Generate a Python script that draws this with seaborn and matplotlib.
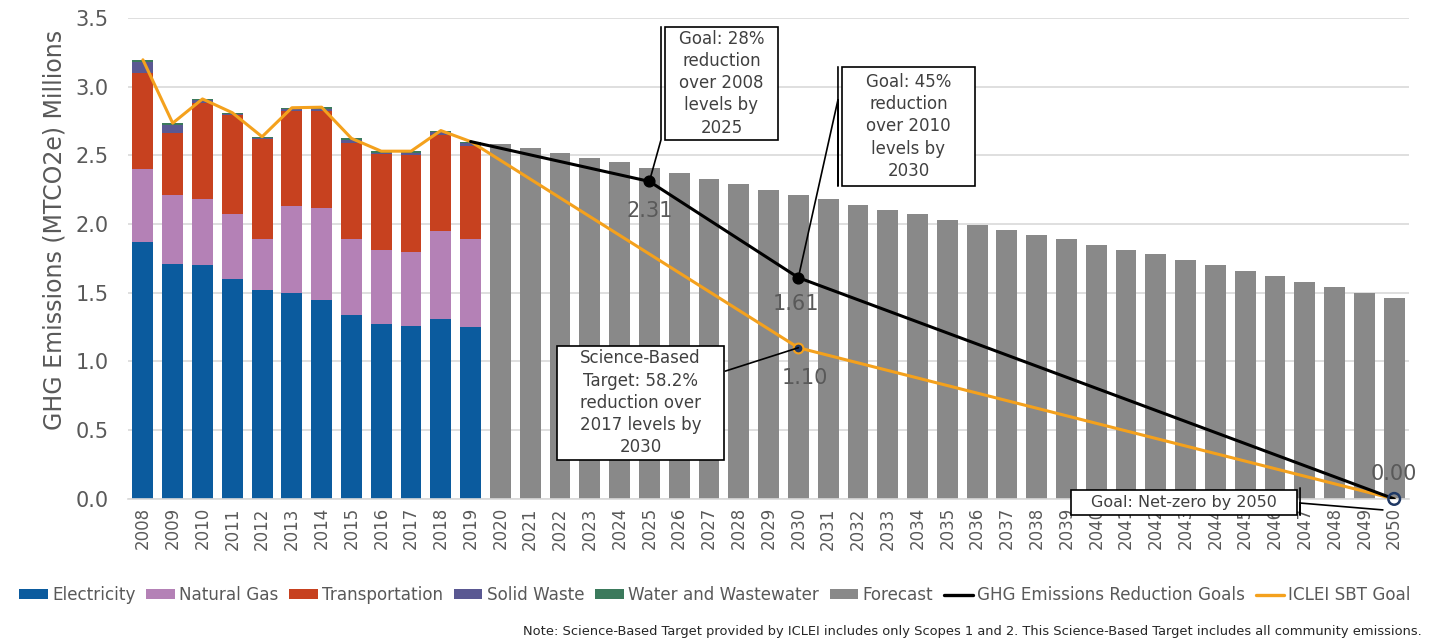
import matplotlib
matplotlib.use("Agg")
import numpy as np
import pandas as pd
import seaborn as sns
import matplotlib.pyplot as plt
from matplotlib.patches import Patch, Rectangle
from matplotlib.lines import Line2D

# ---- data ----
all_years = [str(y) for y in range(2008, 2051)]
hist_years = [str(y) for y in range(2008, 2020)]
fcst_years = [str(y) for y in range(2020, 2051)]

electricity = [1.87, 1.71, 1.70, 1.60, 1.52, 1.50, 1.45, 1.34, 1.27, 1.26, 1.31, 1.25]
natural_gas = [0.53, 0.50, 0.48, 0.47, 0.37, 0.63, 0.67, 0.55, 0.54, 0.54, 0.64, 0.64]
transportation = [0.70, 0.45, 0.70, 0.72, 0.73, 0.69, 0.70, 0.70, 0.70, 0.70, 0.70, 0.68]
solid_waste = [0.08, 0.06, 0.02, 0.01, 0.005, 0.016, 0.02, 0.023, 0.01, 0.02, 0.02, 0.02]
water = [0.015, 0.014, 0.01, 0.01, 0.01, 0.01, 0.01, 0.01, 0.01, 0.01, 0.01, 0.01]

forecast = [2.58, 2.55, 2.52, 2.48, 2.45, 2.41, 2.37, 2.33, 2.29, 2.25, 2.21,
            2.18, 2.14, 2.10, 2.07, 2.03, 1.99, 1.96, 1.92, 1.89, 1.85,
            1.81, 1.78, 1.74, 1.70, 1.66, 1.62, 1.58, 1.54, 1.50, 1.46]

goal_years = [2019, 2025, 2030, 2050]
goal_values = [2.60, 2.31, 1.61, 0.00]

sbt_years = [2030, 2050]
sbt_values = [1.10, 0.00]

colors = {
    "Electricity": "#0B5B9E",
    "Natural Gas": "#B481B6",
    "Transportation": "#C7411F",
    "Solid Waste": "#5A5892",
    "Water and Wastewater": "#3B7A5C",
    "Forecast": "#898989",
}
goal_color = "#000000"
sbt_color = "#F4A11D"
text_gray = "#595959"

sns.set_style("white")
plt.rcParams["font.family"] = ["DejaVu Sans"]

hist = pd.DataFrame({
    "year": hist_years,
    "Electricity": electricity,
    "Natural Gas": natural_gas,
    "Transportation": transportation,
    "Solid Waste": solid_waste,
    "Water and Wastewater": water,
})
layers = ["Electricity", "Natural Gas", "Transportation", "Solid Waste", "Water and Wastewater"]
cum = hist[layers].cumsum(axis=1)
hist_total = cum["Water and Wastewater"].tolist()

fig, ax = plt.subplots(figsize=(14.32, 6.38), dpi=100)
fig.subplots_adjust(left=0.0894, right=0.984, bottom=0.218, top=0.972)

# stacked bars: draw cumulative layers from the top down
for name in reversed(layers):
    sns.barplot(x=hist["year"], y=cum[name], order=all_years, color=colors[name],
                saturation=1, width=0.7, linewidth=0, ax=ax, zorder=2)

fc = pd.DataFrame({"year": fcst_years, "value": forecast})
sns.barplot(data=fc, x="year", y="value", order=all_years, color=colors["Forecast"],
            saturation=1, width=0.7, linewidth=0, ax=ax, zorder=2)

# lines (positions = year index)
pos = {int(y): i for i, y in enumerate(all_years)}
sbt_x = [pos[int(y)] for y in hist_years] + [pos[y] for y in sbt_years]
sbt_y = hist_total + sbt_values
sns.lineplot(x=sbt_x, y=sbt_y, color=sbt_color, linewidth=2.2, sort=False, ax=ax, zorder=4)
goal_x = [pos[y] for y in goal_years]
sns.lineplot(x=goal_x, y=goal_values, color=goal_color, linewidth=2.2, sort=False, ax=ax, zorder=4)

# markers
ax.scatter(goal_x[1:3], goal_values[1:3], s=60, color="black", zorder=6)
ax.scatter([pos[2030]], [1.10], s=50, facecolor="#1F3864", edgecolor=sbt_color, linewidth=1.5, zorder=6)
ax.scatter([pos[2050]], [0.0], s=70, facecolor="none", edgecolor="#1F3864", linewidth=1.8, zorder=7, clip_on=False)

# data labels
def label(x, v, dy, dx=0):
    ax.annotate(f"{v:.2f}", xy=(x, v), xytext=(dx, dy), textcoords="offset points",
                ha="center", va="center", fontsize=15, color=text_gray, zorder=6)

label(pos[2025], 2.31, -21)
label(pos[2030], 1.61, -19, -2)
label(pos[2030], 1.10, -22, 5)
label(pos[2050], 0.00, 18)

# callout boxes
def callout(x0, y0, w, h, text, leader, fs=12):
    ax.add_patch(Rectangle((x0, y0), w, h, facecolor="white", edgecolor="black",
                           linewidth=1.2, zorder=8, clip_on=False))
    ax.text(x0 + w / 2, y0 + h / 2, text, ha="center", va="center", fontsize=fs,
            color="#404040", linespacing=1.3, zorder=9, clip_on=False)
    lx, ly = zip(*leader)
    ax.plot(lx, ly, color="black", linewidth=1.2, zorder=8, clip_on=False)

callout(17.52, 2.613, 3.80, 0.822, "Goal: 28%\nreduction\nover 2008\nlevels by\n2025",
        [(17.39, 3.435), (17.39, 2.613), (pos[2025], 2.31)])
callout(23.46, 2.278, 4.47, 0.866, "Goal: 45%\nreduction\nover 2010\nlevels by\n2030",
        [(23.33, 3.144), (23.33, 2.278), (23.33, 2.904), (pos[2030], 1.61)])
callout(13.90, 0.284, 5.60, 0.830, "Science-Based\nTarget: 58.2%\nreduction over\n2017 levels by\n2030",
        [(19.55, 0.93), (pos[2030], 1.10)])
callout(31.15, -0.116, 7.59, 0.182, "Goal: Net-zero by 2050",
        [(38.84, 0.08), (38.84, -0.116), (38.84, -0.03), (41.62, -0.08)], fs=11.5)

# axes styling
ax.set_ylim(0, 3.5)
ax.set_xlim(-0.5, len(all_years) - 0.5)
ax.set_yticks(np.arange(0, 3.51, 0.5))
ax.yaxis.set_major_formatter(matplotlib.ticker.FormatStrFormatter("%.1f"))
ax.grid(axis="y", color="#D9D9D9", linewidth=1.2, zorder=0)
ax.set_axisbelow(True)
for s in ["top", "right", "left"]:
    ax.spines[s].set_visible(False)
ax.spines["bottom"].set_color("#D9D9D9")
ax.spines["bottom"].set_linewidth(1.2)
ax.tick_params(axis="y", length=0, pad=14, labelsize=15, labelcolor=text_gray)
ax.tick_params(axis="x", length=0, pad=6, labelsize=12, labelcolor=text_gray, rotation=90)
ax.set_xlabel("")
ax.set_ylabel("")
fig.text(55 / 1432, 1 - 230 / 638, "GHG Emissions (MTCO2e) Millions", rotation=90,
         ha="center", va="center", fontsize=17, color=text_gray)

handles = [Patch(facecolor=colors[n], edgecolor="none") for n in layers + ["Forecast"]]
handles += [Line2D([], [], color=goal_color, linewidth=2.4), Line2D([], [], color=sbt_color, linewidth=2.4)]
names = layers + ["Forecast", "GHG Emissions Reduction Goals", "ICLEI SBT Goal"]
fig.legend(handles, names, loc="center", bbox_to_anchor=(0.4993, 1 - 595 / 638), ncol=8,
           frameon=False, fontsize=12.1, labelcolor=text_gray, handlelength=1.7, handleheight=0.45,
           handletextpad=0.25, columnspacing=0.65)

fig.text(1422 / 1432, 1 - 632 / 638,
         "Note: Science-Based Target provided by ICLEI includes only Scopes 1 and 2. "
         "This Science-Based Target includes all community emissions.",
         ha="right", va="center", fontsize=9.4, color="#262626")

fig.savefig("out.png", dpi=100)
